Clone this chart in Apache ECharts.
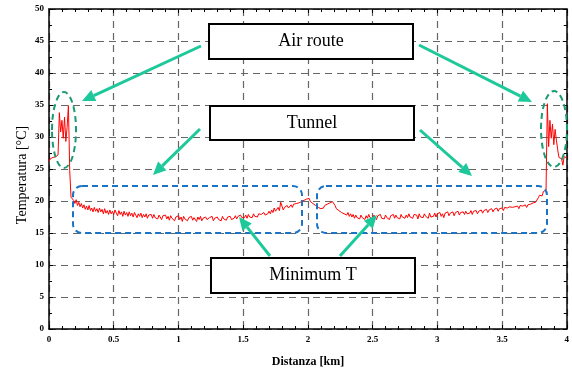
<!DOCTYPE html>
<html>
<head>
<meta charset="utf-8">
<script src="https://cdn.jsdelivr.net/npm/echarts@6/dist/echarts.min.js"></script>
<style>
    html, body { margin: 0; background: #fff; }
    #chart { width: 572px; height: 371px; }
</style>
</head>
<body>
<div id="chart"></div>
<script>
// temperature samples, one every 0.01 km from 0 to 4 km
const STEP_KM = 0.01;
const temperature = [
    26.2, 26.6, 26.3, 26.8, 26.5, 26.9, 26.6, 27.2, 33.8, 30.8,
    32.6, 29.8, 33.1, 29.3, 31.5, 34.9, 24.8, 20.6, 20.5, 20.1,
    19.6, 20.2, 19.3, 19.8, 19.1, 19.6, 18.9, 19.4, 18.7, 19.2,
    18.6, 19.3, 18.5, 18.9, 18.3, 19.0, 18.4, 18.8, 18.2, 18.9,
    18.3, 18.7, 18.0, 18.8, 18.1, 18.5, 17.9, 18.6, 18.0, 18.4,
    17.9, 18.6, 18.1, 17.7, 18.5, 17.9, 18.3, 17.6, 18.4, 17.8,
    18.2, 17.6, 18.3, 17.7, 18.1, 17.5, 18.2, 17.8, 17.4, 18.0,
    17.6, 18.1, 17.4, 17.9, 17.5, 18.0, 17.3, 17.8, 17.5, 17.9,
    17.3, 17.9, 17.4, 17.7, 17.2, 17.8, 17.5, 17.1, 17.7, 17.4,
    17.8, 17.2, 17.6, 17.0, 17.7, 17.3, 17.6, 16.9, 17.5, 17.2,
    17.7, 17.1, 17.5, 16.8, 17.6, 17.2, 17.5, 16.9, 17.4, 17.1,
    17.6, 17.0, 17.4, 17.2, 16.8, 17.5, 17.1, 17.6, 16.9, 17.3,
    17.0, 17.5, 17.1, 16.8, 17.4, 17.2, 17.6, 16.9, 17.3, 17.0,
    17.5, 17.1, 17.4, 16.9, 17.6, 17.2, 17.4, 17.0, 17.5, 17.2,
    17.6, 17.1, 17.4, 17.3, 17.7, 17.2, 17.6, 17.3, 17.8, 17.4,
    17.7, 17.4, 17.8, 17.3, 17.9, 17.5, 17.8, 17.4, 18.0, 17.6,
    17.9, 17.5, 18.0, 17.7, 17.9, 17.6, 18.2, 17.8, 18.1, 18.0,
    18.4, 18.0, 18.6, 18.2, 18.9, 18.4, 18.7, 19.0, 18.5, 19.8,
    19.2, 18.6, 19.0, 18.7, 19.3, 18.9, 19.1, 19.4, 19.0, 19.5,
    19.2, 19.6, 19.3, 19.7, 19.5, 19.9, 19.6, 20.1, 20.0, 20.3,
    20.1, 20.4, 19.9, 20.0, 19.6, 19.8, 19.3, 19.5, 19.0, 19.2,
    18.8, 19.1, 18.9, 19.3, 19.0, 19.5, 19.2, 19.7, 19.4, 19.9,
    19.6, 19.3, 18.8, 19.0, 18.5, 18.7, 18.2, 18.5, 18.0, 18.3,
    17.8, 18.2, 17.6, 18.0, 17.5, 17.9, 17.3, 17.8, 17.4, 17.7,
    17.2, 17.8, 17.4, 17.6, 17.1, 17.7, 17.3, 17.9, 17.4, 17.6,
    17.2, 17.8, 17.5, 17.1, 17.7, 17.4, 17.9, 17.3, 17.6, 17.2,
    17.8, 17.4, 17.6, 17.1, 17.7, 17.5, 17.9, 17.3, 17.8, 17.4,
    17.6, 17.2, 17.9, 17.5, 17.7, 17.3, 17.8, 17.4, 18.0, 17.5,
    17.7, 17.3, 17.9, 17.6, 17.8, 17.2, 18.0, 17.5, 17.8, 17.4,
    18.0, 17.6, 17.9, 17.3, 18.1, 17.5, 17.8, 17.6, 18.1, 17.5,
    18.0, 17.7, 18.2, 17.6, 18.0, 17.4, 18.1, 17.8, 18.3, 17.7,
    18.1, 17.8, 18.3, 17.7, 18.2, 17.9, 18.4, 17.8, 18.2, 18.0,
    18.3, 17.9, 18.4, 18.0, 18.3, 18.1, 18.5, 17.9, 18.4, 18.2,
    18.5, 18.0, 18.4, 18.2, 18.6, 18.1, 18.5, 18.3, 18.7, 18.2,
    18.6, 18.4, 18.8, 18.3, 18.7, 18.5, 18.9, 18.4, 18.8, 18.6,
    18.9, 18.5, 19.0, 18.7, 18.9, 18.6, 19.1, 18.8, 19.0, 18.7,
    19.1, 18.9, 19.2, 18.8, 19.3, 19.0, 19.2, 19.1, 19.4, 19.0,
    19.4, 19.2, 19.5, 19.3, 19.7, 19.4, 19.8, 19.6, 20.5, 20.9,
    21.2, 20.8, 21.5, 21.3, 21.7, 35.2, 28.5, 32.6, 29.8, 32.0,
    28.8, 31.2, 29.5, 28.0, 26.8, 27.0, 26.6, 25.6, 26.9, 26.7,
    26.8
];
const distance = temperature.map((t, i) => +(i * STEP_KM).toFixed(2));

const xTicks = [0, 0.5, 1, 1.5, 2, 2.5, 3, 3.5, 4];
const yTicks = [0, 5, 10, 15, 20, 25, 30, 35, 40, 45, 50];
const labels = ["Air route", "Tunnel", "Minimum T"];

const SERIF = '"Liberation Serif", "Times New Roman", serif';
const ARROW = "#1dc99a";

let myChart = echarts.init(document.getElementById("chart"));

/* green arrow: shaft + triangular head pointing at (x2, y2) */
function arrow(x1, y1, x2, y2) {
    const a = Math.atan2(y2 - y1, x2 - x1);
    const len = 13, half = 6;
    const bx = x2 - len * Math.cos(a);
    const by = y2 - len * Math.sin(a);
    return [
        {
            type: "line", z: 100,
            shape: { x1: x1, y1: y1, x2: bx, y2: by },
            style: { stroke: ARROW, lineWidth: 3 },
        },
        {
            type: "polygon", z: 100,
            shape: {
                points: [
                    [x2, y2],
                    [bx + half * Math.sin(a), by - half * Math.cos(a)],
                    [bx - half * Math.sin(a), by + half * Math.cos(a)],
                ],
            },
            style: { fill: ARROW },
        },
    ];
}

/* white label box with black border */
function labelBox(x, y, w, h, text) {
    return [
        {
            type: "rect", z: 100,
            shape: { x: x, y: y, width: w, height: h },
            style: { fill: "#fff", stroke: "#000", lineWidth: 2 },
        },
        {
            type: "text", z: 101,
            x: x + w / 2, y: y + h / 2,
            style: {
                text: text, fill: "#000",
                font: "18px " + SERIF,
                align: "center", verticalAlign: "middle",
                textAlign: "center", textVerticalAlign: "middle",
            },
        },
    ];
}

function dashedShape(type, shape, color) {
    return {
        type: type, z: 99, shape: shape,
        style: { fill: null, stroke: color, lineWidth: 2, lineDash: [6, 4] },
    };
}

const tickLabelStyle = {
    fontFamily: SERIF, fontWeight: "bold", fontSize: 9, color: "#000",
};

function xAxisDef(pos, showLabel) {
    return {
        type: "value", position: pos, min: 0, max: 4, interval: 0.5,
        axisLine: { show: true, onZero: false, lineStyle: { color: "#000", width: 1.5 } },
        axisTick: { show: true, inside: true, length: 4, lineStyle: { color: "#000" } },
        minorTick: { show: true, splitNumber: 5, length: 3, lineStyle: { color: "#000" } },
        axisLabel: Object.assign({ show: showLabel, margin: 6,
            formatter: (v) => String(xTicks.find((t) => Math.abs(t - v) < 1e-6) ?? v) }, tickLabelStyle),
        splitLine: {
            show: showLabel,
            lineStyle: { color: "#666", width: 1.2, type: [7, 5] },
        },
    };
}

function yAxisDef(pos, showLabel) {
    return {
        type: "value", position: pos, min: 0, max: 50, interval: 5,
        axisLine: { show: true, onZero: false, lineStyle: { color: "#000", width: 1.5 } },
        axisTick: { show: true, inside: true, length: 4, lineStyle: { color: "#000" } },
        minorTick: { show: true, splitNumber: 2, length: 3, lineStyle: { color: "#000" } },
        axisLabel: Object.assign({ show: showLabel, margin: 5,
            formatter: (v) => String(yTicks.find((t) => t === v) ?? v) }, tickLabelStyle),
        splitLine: {
            show: showLabel,
            lineStyle: { color: "#666", width: 1.2, type: [7, 5] },
        },
    };
}

const graphics = [].concat(
    dashedShape("ellipse", { cx: 64, cy: 130, rx: 12, ry: 38 }, "#1b9a73"),
    dashedShape("ellipse", { cx: 554, cy: 129, rx: 13, ry: 38 }, "#1b9a73"),
    dashedShape("rect", { x: 73, y: 186, width: 229, height: 47, r: 9 }, "#1a73c4"),
    dashedShape("rect", { x: 317, y: 186, width: 230, height: 47, r: 9 }, "#1a73c4"),
    labelBox(209, 24, 204, 35, labels[0]),
    labelBox(210, 106, 204, 34, labels[1]),
    labelBox(211, 258, 204, 35, labels[2]),
    arrow(201, 46, 82, 101),
    arrow(419, 45, 532, 102),
    arrow(200, 129, 153, 175),
    arrow(420, 130, 472, 176),
    arrow(270, 256, 239, 217),
    arrow(340, 256, 377, 215),
    [
        {
            type: "text", z: 101, x: 308, y: 362,
            style: {
                text: "Distanza [km]", fill: "#000",
                font: "bold 12px " + SERIF,
                align: "center", verticalAlign: "middle",
                textAlign: "center", textVerticalAlign: "middle",
            },
        },
        {
            type: "text", z: 101, x: 22, y: 175, rotation: Math.PI / 2,
            style: {
                text: "Temperatura [°C]", fill: "#000",
                font: "14px " + SERIF,
                align: "center", verticalAlign: "middle",
                textAlign: "center", textVerticalAlign: "middle",
            },
        },
    ]
);

option = {
    backgroundColor: "#fff",
    animation: false,
    grid: { left: 49, right: 3, top: 9, bottom: 42, containLabel: false },
    xAxis: [xAxisDef("bottom", true), xAxisDef("top", false)],
    yAxis: [yAxisDef("left", true), yAxisDef("right", false)],
    series: [
        {
            name: "Temperatura",
            type: "line",
            showSymbol: false,
            symbol: "none",
            data: distance.map((d, i) => [d, temperature[i]]),
            lineStyle: { color: "#ff0000", width: 1 },
            z: 5,
        },
    ],
    graphic: graphics,
};
myChart.setOption(option);
</script>
</body>
</html>
